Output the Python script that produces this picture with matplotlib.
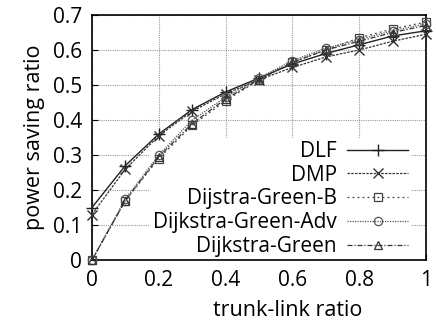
import matplotlib.pyplot as plt
import numpy as np

plt.rcParams['font.family'] = ['Open Sans', 'DejaVu Sans']

# trunk-link ratio
x = [0.0, 0.1, 0.2, 0.3, 0.4, 0.5, 0.6, 0.7, 0.8, 0.9, 1.0]

dlf = [0.15, 0.27, 0.36, 0.43, 0.48, 0.52, 0.56, 0.59, 0.615, 0.64, 0.655]
dmp = [0.13, 0.26, 0.355, 0.425, 0.475, 0.515, 0.55, 0.58, 0.60, 0.625, 0.645]
green_b = [0.0, 0.17, 0.29, 0.385, 0.455, 0.515, 0.565, 0.60, 0.635, 0.66, 0.68]
green_adv = [0.0, 0.175, 0.30, 0.40, 0.465, 0.52, 0.57, 0.605, 0.63, 0.655, 0.675]
green = [0.0, 0.17, 0.295, 0.39, 0.46, 0.515, 0.565, 0.60, 0.625, 0.65, 0.67]

labels = ['DLF', 'DMP', 'Dijstra-Green-B', 'Dijkstra-Green-Adv', 'Dijkstra-Green']

fig = plt.figure(figsize=(4.36, 3.26), dpi=100)
ax = fig.add_axes([92 / 436, 66 / 326, 334 / 436, 245 / 326])

common = dict(zorder=3, clip_on=False)
ax.plot(x, dlf, color='#222222', lw=1.0, ls='-', marker='+', ms=8, mew=1.0, label=labels[0], **common)
ax.plot(x, dmp, color='#333333', lw=0.9, ls=(0, (2, 1)), marker='x', ms=7, mew=1.0, label=labels[1], **common)
ax.plot(x, green_b, color='#444444', lw=0.9, ls=(0, (1.5, 2.5)), marker='s', ms=6, mfc='none', mew=0.9, label=labels[2], **common)
ax.plot(x, green_adv, color='#555555', lw=0.9, ls=(0, (1, 1)), marker='o', ms=6, mfc='none', mew=0.9, label=labels[3], **common)
ax.plot(x, green, color='#333333', lw=0.9, ls=(0, (4, 1.5, 1, 1.5)), marker='^', ms=6, mfc='none', mew=0.9, label=labels[4], **common)

ax.set_xlim(0, 1)
ax.set_ylim(0, 0.7)
ax.set_xticks([0, 0.2, 0.4, 0.6, 0.8, 1])
ax.set_xticklabels(['0', '0.2', '0.4', '0.6', '0.8', '1'])
ax.set_yticks([0, 0.1, 0.2, 0.3, 0.4, 0.5, 0.6, 0.7])
ax.set_yticklabels(['0', '0.1', '0.2', '0.3', '0.4', '0.5', '0.6', '0.7'])
ax.tick_params(labelsize=15, direction='in', length=4, pad=7)
ax.grid(True, color='#999999', ls=(0, (1, 1)), lw=0.8)
ax.set_axisbelow(True)
for s in ax.spines.values():
    s.set_linewidth(1.2)

ax.set_xlabel('trunk-link ratio', fontsize=15.5)
ax.xaxis.set_label_coords(0.587, -0.165)
ax.set_ylabel('power saving ratio', fontsize=15.5)
ax.yaxis.set_label_coords(-0.14, 0.5)

leg = ax.legend(loc='lower right', bbox_to_anchor=(0.955, 0.0), markerfirst=False,
                frameon=True, fontsize=15, handlelength=2.9, labelspacing=0.13,
                borderaxespad=0.0, borderpad=0.15, handletextpad=0.5)
leg.get_frame().set_edgecolor('none')
leg.get_frame().set_facecolor('white')
leg.get_frame().set_alpha(1)
leg.set_zorder(2)

plt.savefig('out.png', dpi=100)
